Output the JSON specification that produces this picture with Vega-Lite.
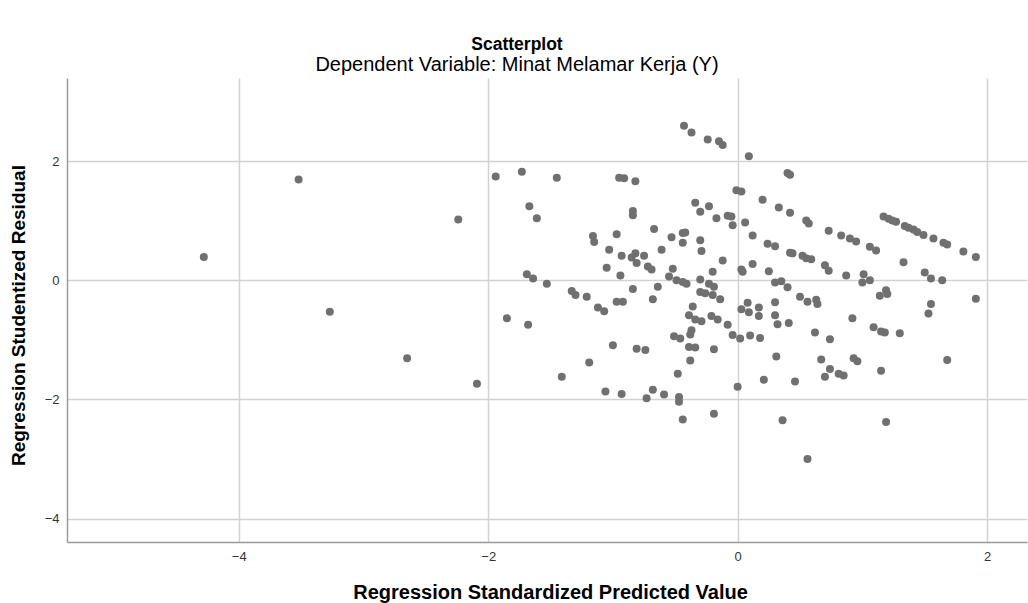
{
  "$schema": "https://vega.github.io/schema/vega-lite/v6.json",
  "autosize": {"type": "none"},
  "width": 960,
  "height": 464,
  "padding": {"left": 67, "top": 78, "right": 1, "bottom": 61},
  "background": "white",
  "title": {
    "text": "Scatterplot",
    "subtitle": "Dependent Variable: Minat Melamar Kerja (Y)",
    "anchor": "middle",
    "dx": -30,
    "offset": 3,
    "font": "Liberation Sans",
    "fontSize": 17.5,
    "fontWeight": "bold",
    "color": "#000000",
    "subtitleFont": "Liberation Sans",
    "subtitleFontSize": 20,
    "subtitleColor": "#000000",
    "subtitlePadding": 2
  },
  "config": {
    "view": {"stroke": null},
    "font": "Liberation Sans"
  },
  "data": {
    "values": [
      {"pred": -4.28, "resid": 0.39}, {"pred": -3.52, "resid": 1.69}, {"pred": -3.27, "resid": -0.53}, {"pred": -2.65, "resid": -1.31},
      {"pred": -1.94, "resid": 1.74}, {"pred": -1.73, "resid": 1.82}, {"pred": -1.45, "resid": 1.72}, {"pred": -1.67, "resid": 1.24},
      {"pred": -1.61, "resid": 1.04}, {"pred": -2.24, "resid": 1.02}, {"pred": -1.16, "resid": 0.74}, {"pred": -1.15, "resid": 0.64},
      {"pred": -1.69, "resid": 0.10}, {"pred": -1.64, "resid": 0.03}, {"pred": -1.53, "resid": -0.06}, {"pred": -1.33, "resid": -0.18},
      {"pred": -1.30, "resid": -0.25}, {"pred": -1.21, "resid": -0.28}, {"pred": -1.85, "resid": -0.64}, {"pred": -1.68, "resid": -0.75},
      {"pred": -2.09, "resid": -1.74}, {"pred": -1.41, "resid": -1.62}, {"pred": -1.19, "resid": -1.38}, {"pred": -1.12, "resid": -0.46},
      {"pred": -0.43, "resid": 2.59}, {"pred": -0.37, "resid": 2.48}, {"pred": -0.24, "resid": 2.36}, {"pred": -0.15, "resid": 2.33},
      {"pred": -0.12, "resid": 2.27}, {"pred": -0.95, "resid": 1.72}, {"pred": -0.91, "resid": 1.71}, {"pred": -0.82, "resid": 1.66},
      {"pred": -0.34, "resid": 1.30}, {"pred": -0.23, "resid": 1.24}, {"pred": -0.30, "resid": 1.15}, {"pred": -0.17, "resid": 1.04},
      {"pred": -0.08, "resid": 1.08}, {"pred": -0.84, "resid": 1.16}, {"pred": -0.84, "resid": 1.09}, {"pred": -0.67, "resid": 0.86},
      {"pred": -0.97, "resid": 0.77}, {"pred": -0.53, "resid": 0.72}, {"pred": -0.44, "resid": 0.79}, {"pred": -0.42, "resid": 0.80},
      {"pred": -0.44, "resid": 0.63}, {"pred": -0.30, "resid": 0.67}, {"pred": -0.29, "resid": 0.49}, {"pred": -0.61, "resid": 0.51},
      {"pred": -1.03, "resid": 0.51}, {"pred": -0.93, "resid": 0.41}, {"pred": -0.85, "resid": 0.38}, {"pred": -0.82, "resid": 0.45},
      {"pred": -0.81, "resid": 0.29}, {"pred": -0.75, "resid": 0.41}, {"pred": -0.72, "resid": 0.23}, {"pred": -0.69, "resid": 0.18},
      {"pred": -1.05, "resid": 0.21}, {"pred": -0.94, "resid": 0.08}, {"pred": -0.12, "resid": 0.33}, {"pred": -0.20, "resid": 0.14},
      {"pred": -0.52, "resid": 0.19}, {"pred": -0.55, "resid": 0.06}, {"pred": -0.49, "resid": 0.00}, {"pred": -0.44, "resid": -0.03},
      {"pred": -0.41, "resid": -0.06}, {"pred": -0.30, "resid": 0.01}, {"pred": -0.23, "resid": -0.06}, {"pred": -0.19, "resid": -0.11},
      {"pred": -0.84, "resid": -0.15}, {"pred": -0.64, "resid": -0.11},
      {"pred": -0.30, "resid": -0.20}, {"pred": -0.26, "resid": -0.22}, {"pred": -0.20, "resid": -0.25}, {"pred": -0.14, "resid": -0.32},
      {"pred": -0.68, "resid": -0.32}, {"pred": -0.97, "resid": -0.36}, {"pred": -0.92, "resid": -0.36}, {"pred": -1.07, "resid": -0.52},
      {"pred": -0.36, "resid": -0.44}, {"pred": -0.39, "resid": -0.59}, {"pred": -0.34, "resid": -0.66}, {"pred": -0.29, "resid": -0.69},
      {"pred": -0.21, "resid": -0.60}, {"pred": -0.16, "resid": -0.66}, {"pred": -0.08, "resid": -0.75}, {"pred": -0.51, "resid": -0.94},
      {"pred": -0.46, "resid": -0.98}, {"pred": -0.37, "resid": -0.84}, {"pred": -0.38, "resid": -0.91}, {"pred": -0.39, "resid": -1.12},
      {"pred": -0.34, "resid": -1.13}, {"pred": -0.19, "resid": -1.16}, {"pred": -1.00, "resid": -1.09}, {"pred": -0.81, "resid": -1.15},
      {"pred": -0.74, "resid": -1.17}, {"pred": -0.38, "resid": -1.35}, {"pred": -0.48, "resid": -1.57}, {"pred": -1.06, "resid": -1.87},
      {"pred": -0.93, "resid": -1.91}, {"pred": -0.68, "resid": -1.84}, {"pred": -0.73, "resid": -1.98}, {"pred": -0.59, "resid": -1.92},
      {"pred": -0.47, "resid": -1.96}, {"pred": -0.47, "resid": -2.04}, {"pred": -0.19, "resid": -2.24}, {"pred": -0.44, "resid": -2.34},
      {"pred": 0.09, "resid": 2.08}, {"pred": 0.40, "resid": 1.80}, {"pred": 0.42, "resid": 1.77}, {"pred": -0.01, "resid": 1.51},
      {"pred": 0.03, "resid": 1.49}, {"pred": 0.20, "resid": 1.35}, {"pred": 0.33, "resid": 1.22}, {"pred": 0.42, "resid": 1.13},
      {"pred": -0.05, "resid": 1.07}, {"pred": -0.04, "resid": 0.92}, {"pred": 0.06, "resid": 0.97}, {"pred": 0.55, "resid": 1.00},
      {"pred": 0.57, "resid": 0.95}, {"pred": 0.12, "resid": 0.75}, {"pred": 0.73, "resid": 0.83}, {"pred": 0.83, "resid": 0.75},
      {"pred": 0.90, "resid": 0.70}, {"pred": 0.95, "resid": 0.65}, {"pred": 0.24, "resid": 0.61}, {"pred": 0.30, "resid": 0.57},
      {"pred": 0.42, "resid": 0.46}, {"pred": 0.44, "resid": 0.45}, {"pred": 0.52, "resid": 0.41}, {"pred": 0.55, "resid": 0.37},
      {"pred": 0.59, "resid": 0.35}, {"pred": 0.70, "resid": 0.25}, {"pred": 0.73, "resid": 0.16}, {"pred": 0.03, "resid": 0.18},
      {"pred": 0.04, "resid": 0.14}, {"pred": 0.12, "resid": 0.27}, {"pred": 0.25, "resid": 0.15}, {"pred": 0.87, "resid": 0.08},
      {"pred": 1.01, "resid": 0.10}, {"pred": 1.00, "resid": -0.04}, {"pred": 0.30, "resid": -0.04}, {"pred": 0.35, "resid": -0.02},
      {"pred": 0.40, "resid": -0.12},
      {"pred": 0.50, "resid": -0.28}, {"pred": 0.56, "resid": -0.36}, {"pred": 0.63, "resid": -0.33}, {"pred": 0.64, "resid": -0.40},
      {"pred": 0.08, "resid": -0.38}, {"pred": 0.03, "resid": -0.49}, {"pred": 0.09, "resid": -0.54}, {"pred": 0.17, "resid": -0.46},
      {"pred": 0.17, "resid": -0.60}, {"pred": 0.30, "resid": -0.37}, {"pred": 0.30, "resid": -0.59}, {"pred": 0.32, "resid": -0.74},
      {"pred": 0.41, "resid": -0.72}, {"pred": -0.04, "resid": -0.92}, {"pred": 0.02, "resid": -0.98}, {"pred": 0.10, "resid": -0.93},
      {"pred": 0.18, "resid": -0.97}, {"pred": 0.92, "resid": -0.64}, {"pred": 0.62, "resid": -0.88}, {"pred": 0.74, "resid": -0.99},
      {"pred": 0.31, "resid": -1.28}, {"pred": 0.67, "resid": -1.33}, {"pred": 0.74, "resid": -1.49}, {"pred": 0.70, "resid": -1.62},
      {"pred": 0.81, "resid": -1.57}, {"pred": 0.85, "resid": -1.60}, {"pred": 0.93, "resid": -1.31}, {"pred": 0.96, "resid": -1.36},
      {"pred": 0.21, "resid": -1.67}, {"pred": 0.46, "resid": -1.70}, {"pred": 0.00, "resid": -1.79}, {"pred": 0.36, "resid": -2.35},
      {"pred": 0.56, "resid": -3.00},
      {"pred": 1.17, "resid": 1.07}, {"pred": 1.21, "resid": 1.03}, {"pred": 1.24, "resid": 1.00}, {"pred": 1.27, "resid": 0.98},
      {"pred": 1.34, "resid": 0.91}, {"pred": 1.37, "resid": 0.88}, {"pred": 1.41, "resid": 0.85}, {"pred": 1.44, "resid": 0.81},
      {"pred": 1.49, "resid": 0.76}, {"pred": 1.57, "resid": 0.70}, {"pred": 1.65, "resid": 0.63}, {"pred": 1.68, "resid": 0.60},
      {"pred": 1.81, "resid": 0.48}, {"pred": 1.91, "resid": 0.39}, {"pred": 1.06, "resid": 0.56}, {"pred": 1.11, "resid": 0.50},
      {"pred": 1.33, "resid": 0.30}, {"pred": 1.50, "resid": 0.13}, {"pred": 1.55, "resid": 0.03}, {"pred": 1.64, "resid": 0.00},
      {"pred": 1.06, "resid": 0.00}, {"pred": 1.19, "resid": -0.17},
      {"pred": 1.14, "resid": -0.26}, {"pred": 1.20, "resid": -0.23}, {"pred": 1.55, "resid": -0.40}, {"pred": 1.53, "resid": -0.56},
      {"pred": 1.91, "resid": -0.31}, {"pred": 1.09, "resid": -0.79}, {"pred": 1.15, "resid": -0.86}, {"pred": 1.18, "resid": -0.88},
      {"pred": 1.30, "resid": -0.89}, {"pred": 1.68, "resid": -1.34}, {"pred": 1.15, "resid": -1.52}, {"pred": 1.19, "resid": -2.38}
    ]
  },
  "mark": {"type": "circle", "size": 64, "color": "#707070", "opacity": 1},
  "encoding": {
    "x": {
      "field": "pred",
      "type": "quantitative",
      "scale": {"domain": [-5.377, 2.32], "nice": false, "zero": false},
      "axis": {
        "title": "Regression Standardized Predicted Value",
        "values": [-4, -2, 0, 2],
        "format": "d",
        "ticks": false,
        "labelPadding": 8,
        "labelFontSize": 13,
        "labelColor": "#333333",
        "labelFont": "Liberation Sans",
        "titleFont": "Liberation Sans",
        "titleFontSize": 20,
        "titleFontWeight": "bold",
        "titleColor": "#000000",
        "titlePadding": 19,
        "titleX": 483,
        "domainColor": "#9a9a9a",
        "domainWidth": 1.5,
        "gridColor": "#d2d2d2",
        "gridWidth": 1.5
      }
    },
    "y": {
      "field": "resid",
      "type": "quantitative",
      "scale": {"domain": [-4.394, 3.393], "nice": false, "zero": false},
      "axis": {
        "title": "Regression Studentized Residual",
        "values": [-4, -2, 0, 2],
        "format": "d",
        "ticks": false,
        "labelPadding": 8,
        "labelFontSize": 13,
        "labelColor": "#333333",
        "labelFont": "Liberation Sans",
        "titleFont": "Liberation Sans",
        "titleFontSize": 19,
        "titleFontWeight": "bold",
        "titleColor": "#000000",
        "titlePadding": 16,
        "titleY": 237,
        "domainColor": "#9a9a9a",
        "domainWidth": 1.5,
        "gridColor": "#d2d2d2",
        "gridWidth": 1.5
      }
    }
  }
}
